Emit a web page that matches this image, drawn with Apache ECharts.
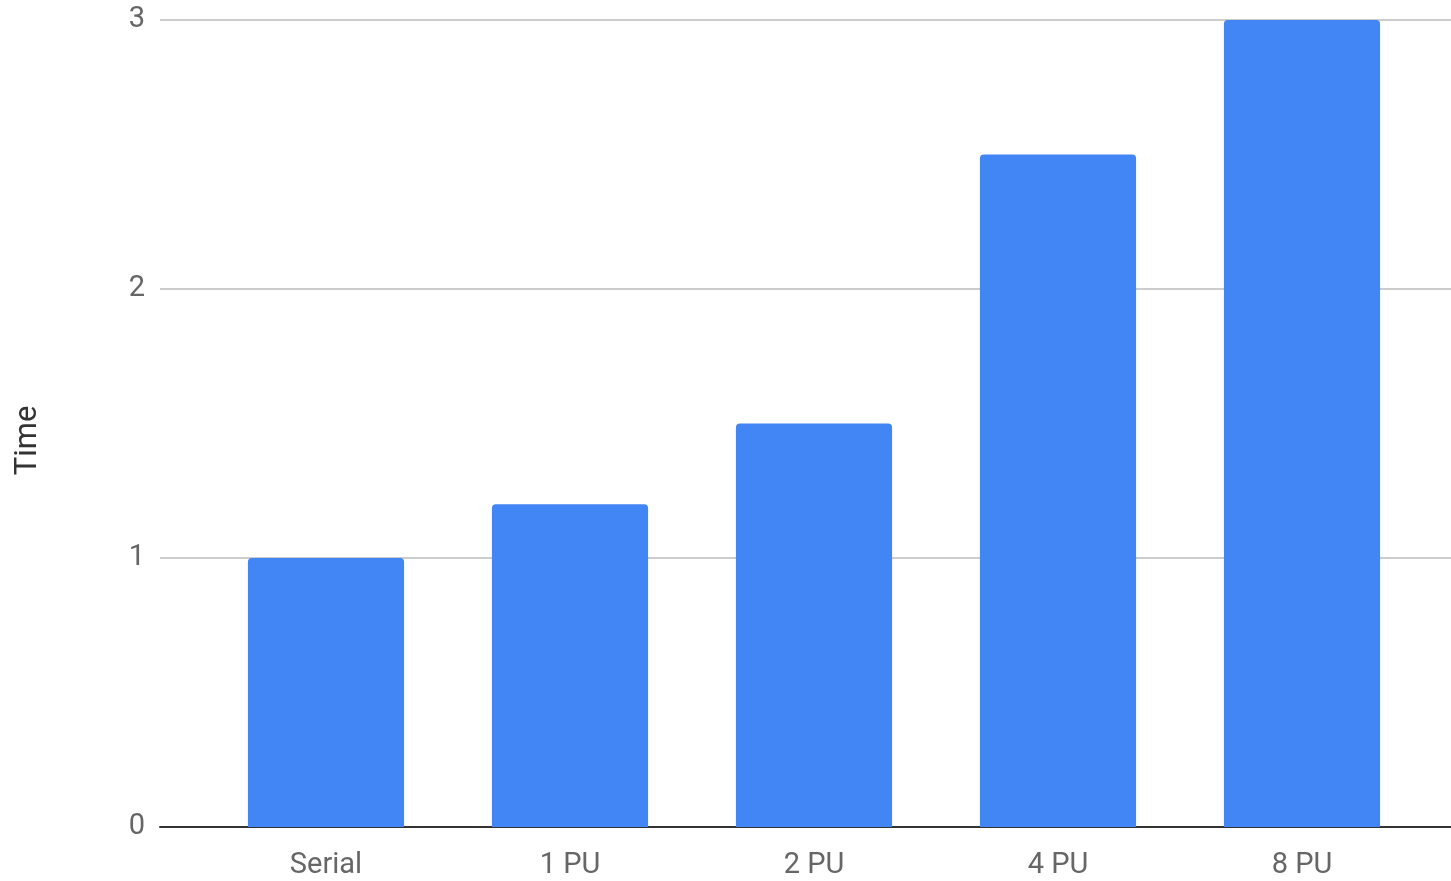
<!DOCTYPE html>
<html>
	<head>
		<meta charset="UTF-8">
		<title></title>
		<script src="https://cdn.jsdelivr.net/npm/echarts@6/dist/echarts.min.js" type="text/javascript" charset="utf-8"></script>
	</head>
	<style type="text/css">
		* {
			margin: 0;
			padding: 0;
		}
		#app {
			width: 1451px;
			height: 881px;
		}
	</style>
	<body>
		<div id="app"></div>
		<script type="text/javascript">
			var categories = ['Serial', '1 PU', '2 PU', '4 PU', '8 PU'];
			var timeValues = [1, 1.2, 1.5, 2.5, 3];
			var yTicks = [0, 1, 2, 3];

			var myChart = echarts.init(document.getElementById('app'));
			var font = 'Roboto';

			var option = {
				animation: false,
				grid: [
					{ left: 160, right: 0, top: 20, bottom: 54 },
					{ left: 204, right: 27, top: 20, bottom: 54 }
				],
				xAxis: [{
					gridIndex: 0,
					type: 'value',
					min: 0,
					max: 1,
					axisLine: { show: true, lineStyle: { color: '#333', width: 2 } },
					axisTick: { show: false },
					axisLabel: { show: false },
					splitLine: { show: false }
				}, {
					gridIndex: 1,
					type: 'category',
					data: categories,
					axisLine: { show: false },
					axisTick: { show: false },
					axisLabel: { fontFamily: font, fontSize: 29, color: '#666', margin: 24 }
				}],
				yAxis: [{
					gridIndex: 0,
					type: 'value',
					min: yTicks[0],
					max: yTicks[yTicks.length - 1],
					interval: 1,
					name: 'Time',
					nameLocation: 'middle',
					nameRotate: 90,
					nameGap: 116,
					nameTextStyle: { fontFamily: font, fontSize: 31, color: '#333', padding: [0, 34, 0, 0] },
					axisLine: { show: false },
					axisTick: { show: false },
					axisLabel: { fontFamily: font, fontSize: 29, color: '#666', margin: 15 },
					splitLine: { lineStyle: { color: '#ccc', width: 2 } }
				}, {
					gridIndex: 1,
					type: 'value',
					min: 0,
					max: 3,
					show: false
				}],
				series: [{
					type: 'bar',
					xAxisIndex: 1,
					yAxisIndex: 1,
					data: timeValues,
					barWidth: '64%',
					itemStyle: { color: '#4285f4', borderRadius: [4, 4, 0, 0] }
				}]
			};

			myChart.setOption(option);
		</script>
	</body>
</html>
